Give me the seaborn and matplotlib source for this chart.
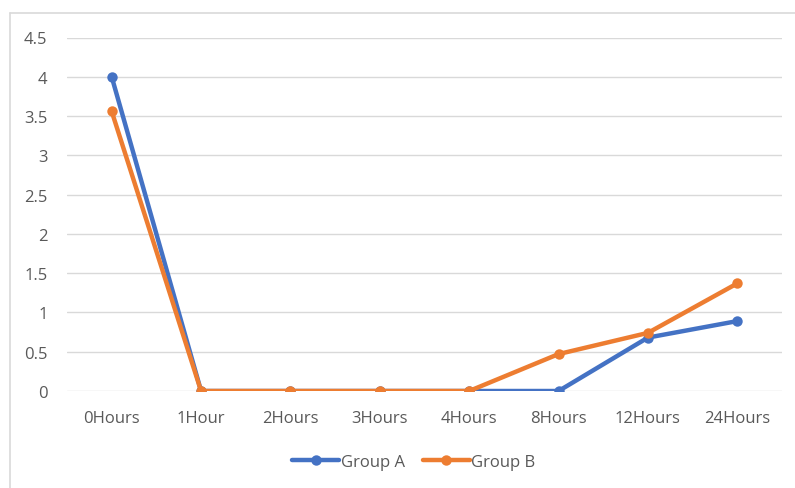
import matplotlib
matplotlib.use("Agg")
import matplotlib.pyplot as plt
from matplotlib.lines import Line2D
import pandas as pd
import seaborn as sns

# Time points and measured values per group
time_points = ["0Hours", "1Hour", "2Hours", "3Hours", "4Hours", "8Hours", "12Hours", "24Hours"]
group_a = [4.0, 0, 0, 0, 0, 0, 0.68, 0.89]
group_b = [3.56, 0, 0, 0, 0, 0.47, 0.74, 1.37]
y_ticks = [0, 0.5, 1, 1.5, 2, 2.5, 3, 3.5, 4, 4.5]
y_tick_labels = ["0", "0.5", "1", "1.5", "2", "2.5", "3", "3.5", "4", "4.5"]

BLUE = "#4472C4"
ORANGE = "#ED7D31"
TEXT = "#595959"
GRID = "#D9D9D9"
FS = 12

sns.set_theme(style="white")
plt.rcParams["font.family"] = ["Open Sans", "DejaVu Sans"]

df = pd.DataFrame({
    "time": time_points * 2,
    "value": group_a + group_b,
    "group": ["Group A"] * len(time_points) + ["Group B"] * len(time_points),
})

fig = plt.figure(figsize=(7.95, 4.89), dpi=100)
ax = fig.add_axes([67 / 795, 1 - 392 / 489, (782 - 67) / 795, (392 - 38.5) / 489])

sns.lineplot(
    data=df, x="time", y="value", hue="group",
    palette={"Group A": BLUE, "Group B": ORANGE},
    hue_order=["Group A", "Group B"],
    marker="o", markersize=7.5, markeredgewidth=0,
    linewidth=3.2, sort=False, ax=ax, legend=False,
)

ax.set_xlim(-0.5, len(time_points) - 0.5)
ax.set_ylim(0, 4.5)
ax.set_yticks(y_ticks)
ax.set_yticklabels(y_tick_labels)
ax.set_xticks(range(len(time_points)))
ax.set_xticklabels(time_points)
ax.set_xlabel("")
ax.set_ylabel("")

for y in y_ticks:
    ax.axhline(y, color=GRID, linewidth=1, zorder=0)

for s in ax.spines.values():
    s.set_visible(False)
ax.tick_params(axis="both", length=0, colors=TEXT, labelsize=FS)
ax.tick_params(axis="y", pad=14)
ax.tick_params(axis="x", pad=14)

# Outer chart frame (top and left edges)
fig.add_artist(Line2D([10 / 795, 10 / 795], [0, 1 - 14 / 489], color=GRID, linewidth=1.2))
fig.add_artist(Line2D([10 / 795, 1], [1 - 14 / 489, 1 - 14 / 489], color=GRID, linewidth=1.2))

handles = [
    Line2D([], [], color=BLUE, linewidth=3.2, marker="o", markersize=7.5, markeredgewidth=0),
    Line2D([], [], color=ORANGE, linewidth=3.2, marker="o", markersize=7.5, markeredgewidth=0),
]
fig.legend(
    handles, ["Group A", "Group B"], loc="center", bbox_to_anchor=(414 / 795, 1 - 463 / 489),
    ncol=2, frameon=False, fontsize=FS, labelcolor=TEXT, handlelength=2.8,
    handletextpad=0.1, columnspacing=1.1,
)

fig.savefig("out.png", dpi=100)
